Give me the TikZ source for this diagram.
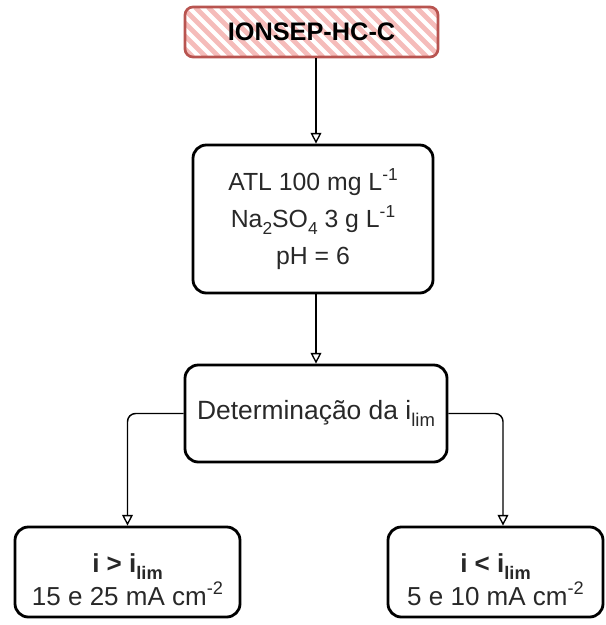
\documentclass[tikz,border=0pt]{standalone}
\usepackage{fontspec}
\setmainfont{Liberation Sans}
\usetikzlibrary{arrows.meta}
\definecolor{redline}{RGB}{184,84,80}
\definecolor{hatchc}{RGB}{245,188,186}
\definecolor{txt}{RGB}{40,40,40}
\newcommand{\mysup}[1]{\raisebox{0.42em}{\fontsize{0.7em}{1em}\selectfont #1}}
\newcommand{\mysub}[1]{\raisebox{-0.28em}{\fontsize{0.7em}{1em}\selectfont #1}}
\newcommand{\lowered}[2]{\raisebox{-#1}[0pt][0pt]{\begin{tabular}[c]{@{}c@{}}#2\end{tabular}}}
\tikzset{
  box/.style={draw=black, line width=2.1pt, rounded corners=10pt, align=center, inner sep=0pt,
    text=txt, font=\fontsize{18.6}{27.5}\selectfont},
  topbox/.style={draw=redline, line width=2pt, rounded corners=6pt, align=center, inner sep=0pt,
    font=\fontsize{19}{22}\selectfont\bfseries},
  conn/.style={line width=1.1pt, -{Triangle[open, length=8pt, width=8pt, line width=1pt]}},
  hatchline/.style={draw=hatchc, line width=3.6pt},
}
\begin{document}
\begin{tikzpicture}[x=0.75pt,y=-0.75pt]
\useasboundingbox (0,0) rectangle (606,625);
% hatch fill of top box
\begin{scope}
  \clip[rounded corners=6pt] (185,7) rectangle (438,57);
  \foreach \i in {0,...,26} \draw[hatchline] (130+\i*13,7) -- ++(50,50);
\end{scope}
\node[topbox, minimum width=189.75pt, minimum height=37.5pt] (top) at (311.5,32) {IONSEP-HC-C};
\node[box, minimum width=180pt, minimum height=111pt] (b1) at (313,219)
  {ATL 100 mg L\mysup{-1}\\Na\mysub{2}SO\mysub{4} 3 g L\mysup{-1}\\pH = 6};
\node[box, minimum width=196.5pt, minimum height=72.75pt, font=\fontsize{19.8}{27}\selectfont] (b2) at (316,413.5)
  {Determinação da i\mysub{lim}};
\node[box, minimum width=168.75pt, minimum height=67.5pt, font=\fontsize{19.5}{25}\selectfont] (bl) at (127.5,572)
  {\lowered{13pt}{\textbf{i > i\mysub{lim}}\\15 e 25 mA cm\mysup{-2}}};
\node[box, minimum width=161.25pt, minimum height=67.5pt, font=\fontsize{19.5}{25}\selectfont] (br) at (495.5,572)
  {\lowered{13pt}{\textbf{i < i\mysub{lim}}\\5 e 10 mA cm\mysup{-2}}};
\coordinate (ax) at (316,0);
\coordinate (rx) at (503,0);
\draw[conn] (top.south -| ax) -- (b1.north -| ax);
\draw[conn] (b1.south -| ax) -- (b2.north -| ax);
\draw[conn, rounded corners=6pt] (b2.west) -| (bl.north);
\draw[conn, rounded corners=6pt] (b2.east) -| (br.north -| rx);
\end{tikzpicture}
\end{document}
